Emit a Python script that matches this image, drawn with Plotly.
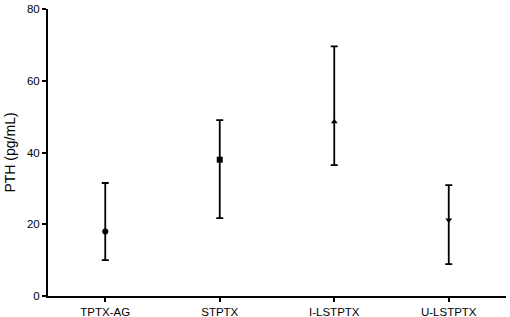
import plotly.graph_objects as go

categories = ["TPTX-AG", "STPTX", "I-LSTPTX", "U-LSTPTX"]
means = [18.0, 38.0, 48.6, 21.2]
upper = [31.5, 49.0, 69.6, 30.9]
lower = [10.0, 21.7, 36.5, 8.9]
symbols = ["circle", "square", "triangle-up", "triangle-down"]

fig = go.Figure()
for i, c in enumerate(categories):
    fig.add_trace(go.Scatter(
        x=[i], y=[means[i]], mode="markers",
        marker=dict(symbol=symbols[i], size=6, color="black"),
        error_y=dict(type="data", symmetric=False,
                     array=[upper[i] - means[i]], arrayminus=[means[i] - lower[i]],
                     color="black", thickness=1.8, width=3.5),
        showlegend=False,
    ))

fig.update_layout(
    width=510, height=317,
    margin=dict(l=48, r=4, t=9, b=21),
    plot_bgcolor="white", paper_bgcolor="white",
    font=dict(family="Liberation Sans, Arial, sans-serif", size=11.5, color="black"),
)
fig.update_xaxes(
    range=[-0.5, 3.5], tickmode="array", tickvals=list(range(len(categories))),
    ticktext=categories, showgrid=False, zeroline=False,
    showline=True, linecolor="black", linewidth=2,
    ticks="outside", ticklen=4, tickwidth=1.5, tickcolor="black",
    automargin=False,
)
fig.update_yaxes(
    range=[0, 80], tickvals=[0, 20, 40, 60, 80], showgrid=False, zeroline=False,
    showline=True, linecolor="black", linewidth=2,
    ticks="outside", ticklen=4, tickwidth=1.5, tickcolor="black",
    title=dict(text="PTH (pg/mL)", standoff=8),
    automargin=False,
)
fig.write_html("out.html", config={"displayModeBar": False},
               post_script="document.body.style.margin='0';document.body.style.overflow='hidden';")
